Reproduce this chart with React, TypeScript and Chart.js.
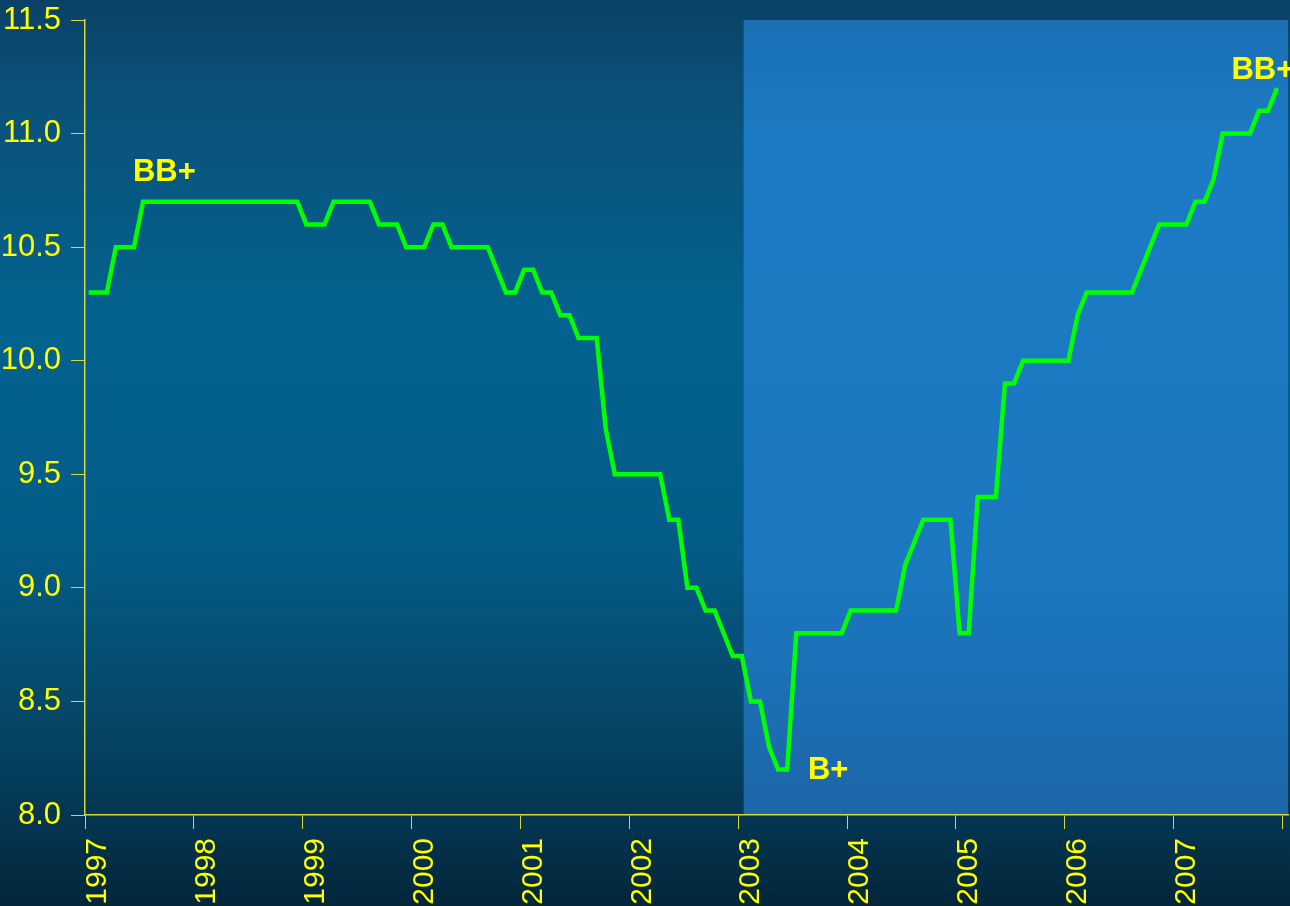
import React, { useEffect, useRef } from "react";
import { Chart, registerables } from "chart.js";

Chart.register(...registerables);

// ---- Data ----
const START_YEAR = 1997;
const MONTH_OFFSET = 0.4; // first observation sits a little after the year tick
const YEAR_TICKS = [1997, 1998, 1999, 2000, 2001, 2002, 2003, 2004, 2005, 2006, 2007, 2008];
const YEAR_LABELS = ["1997", "1998", "1999", "2000", "2001", "2002", "2003", "2004", "2005", "2006", "2007", ""];
const Y_TICKS = [8.0, 8.5, 9.0, 9.5, 10.0, 10.5, 11.0, 11.5];

// monthly values, Jan 1997 .. Dec 2007
const RATING_VALUES = [
  10.3, 10.3, 10.3, 10.5, 10.5, 10.5, 10.7, 10.7, 10.7, 10.7, 10.7, 10.7,
  10.7, 10.7, 10.7, 10.7, 10.7, 10.7, 10.7, 10.7, 10.7, 10.7, 10.7, 10.7,
  10.6, 10.6, 10.6, 10.7, 10.7, 10.7, 10.7, 10.7, 10.6, 10.6, 10.6, 10.5,
  10.5, 10.5, 10.6, 10.6, 10.5, 10.5, 10.5, 10.5, 10.5, 10.4, 10.3, 10.3,
  10.4, 10.4, 10.3, 10.3, 10.2, 10.2, 10.1, 10.1, 10.1, 9.7, 9.5, 9.5,
  9.5, 9.5, 9.5, 9.5, 9.3, 9.3, 9.0, 9.0, 8.9, 8.9, 8.8, 8.7,
  8.7, 8.5, 8.5, 8.3, 8.2, 8.2, 8.8, 8.8, 8.8, 8.8, 8.8, 8.8,
  8.9, 8.9, 8.9, 8.9, 8.9, 8.9, 9.1, 9.2, 9.3, 9.3, 9.3, 9.3,
  8.8, 8.8, 9.4, 9.4, 9.4, 9.9, 9.9, 10.0, 10.0, 10.0, 10.0, 10.0,
  10.0, 10.2, 10.3, 10.3, 10.3, 10.3, 10.3, 10.3, 10.4, 10.5, 10.6, 10.6,
  10.6, 10.6, 10.7, 10.7, 10.8, 11.0, 11.0, 11.0, 11.0, 11.1, 11.1, 11.2,
];

const HIGHLIGHT_START = 2003.05;
const ANNOTATION_TEXT = ["BB+", "B+", "BB+"];
const ANNOTATION_X = [1997.44, 2003.64, 2007.53];
const ANNOTATION_Y = [10.79, 8.16, 11.24];

const YELLOW = "#ffff00";
const AXIS_COLOR = "#d4d838";
const FONT = "'Liberation Sans', Arial, Helvetica, sans-serif";

export default function App() {
  const canvasRef = useRef<HTMLCanvasElement | null>(null);

  useEffect(() => {
    const canvas = canvasRef.current;
    if (!canvas) return;

    const points = RATING_VALUES.map((v, i) => ({
      x: START_YEAR + (i + MONTH_OFFSET) / 12,
      y: v,
    }));

    const backgroundPlugin = {
      id: "bgAndHighlight",
      beforeDraw(chart: any) {
        const { ctx, width, height, chartArea, scales } = chart;
        ctx.save();
        const g = ctx.createLinearGradient(0, 0, 0, height);
        g.addColorStop(0, "#0b4164");
        g.addColorStop(0.1, "#0a5078");
        g.addColorStop(0.35, "#03628f");
        g.addColorStop(0.6, "#035c88");
        g.addColorStop(0.78, "#064868");
        g.addColorStop(0.9, "#043652");
        g.addColorStop(1, "#03263a");
        ctx.fillStyle = g;
        ctx.fillRect(0, 0, width, height);

        const x0 = scales.x.getPixelForValue(HIGHLIGHT_START);
        const hg = ctx.createLinearGradient(0, chartArea.top, 0, chartArea.bottom);
        hg.addColorStop(0, "#1b70b5");
        hg.addColorStop(0.15, "#1b7bc4");
        hg.addColorStop(0.7, "#1b78c0");
        hg.addColorStop(1, "#1c66a8");
        ctx.fillStyle = hg;
        ctx.fillRect(x0, chartArea.top, chartArea.right - x0, chartArea.bottom - chartArea.top);
        ctx.restore();
      },
    };

    const annotationPlugin = {
      id: "ratingLabels",
      afterDatasetsDraw(chart: any) {
        const { ctx, scales } = chart;
        ctx.save();
        ctx.fillStyle = YELLOW;
        ctx.font = `bold 31px ${FONT}`;
        ctx.textAlign = "left";
        ctx.textBaseline = "alphabetic";
        ANNOTATION_TEXT.forEach((t, i) => {
          ctx.fillText(t, scales.x.getPixelForValue(ANNOTATION_X[i]), scales.y.getPixelForValue(ANNOTATION_Y[i]));
        });
        ctx.restore();
      },
    };

    const chart = new Chart(canvas, {
      type: "line",
      data: {
        datasets: [
          {
            data: points,
            borderColor: "#00ff00",
            borderWidth: 4.5,
            pointRadius: 0,
            tension: 0,
            fill: false,
          },
        ],
      },
      options: {
        responsive: false,
        animation: false,
        layout: { padding: { top: 20, right: 2, left: 0, bottom: 0 } },
        plugins: { legend: { display: false }, tooltip: { enabled: false } },
        scales: {
          x: {
            type: "linear",
            min: 1997,
            max: 2008.05,
            afterBuildTicks: (scale: any) => {
              scale.ticks = YEAR_TICKS.map((v) => ({ value: v }));
            },
            afterFit: (scale: any) => {
              scale.height = 91;
              scale.paddingLeft = 0;
              scale.paddingRight = 0;
              scale.paddingTop = 0;
              scale.paddingBottom = 0;
            },
            ticks: {
              autoSkip: false,
              maxRotation: 90,
              minRotation: 90,
              labelOffset: 13,
              padding: 9,
              color: YELLOW,
              font: { size: 30, family: FONT },
              callback: (value: any) => {
                const idx = YEAR_TICKS.indexOf(Math.round(Number(value)));
                return idx >= 0 ? YEAR_LABELS[idx] : "";
              },
            },
            grid: {
              display: true,
              drawOnChartArea: false,
              drawTicks: true,
              tickLength: 14,
              color: AXIS_COLOR,
              lineWidth: 1,
            },
            border: { display: true, color: AXIS_COLOR, width: 1.5 },
          },
          y: {
            type: "linear",
            min: 8,
            max: 11.5,
            afterBuildTicks: (scale: any) => {
              scale.ticks = Y_TICKS.map((v) => ({ value: v }));
            },
            afterFit: (scale: any) => {
              scale.width = 85;
              scale.paddingLeft = 0;
              scale.paddingRight = 0;
              scale.paddingTop = 0;
              scale.paddingBottom = 0;
            },
            ticks: {
              padding: 10,
              color: YELLOW,
              font: { size: 31, family: FONT },
              callback: (value: any) => Number(value).toFixed(1),
            },
            grid: {
              display: true,
              drawOnChartArea: false,
              drawTicks: true,
              tickLength: 14,
              color: AXIS_COLOR,
              lineWidth: 1,
            },
            border: { display: true, color: AXIS_COLOR, width: 1.5 },
          },
        },
      },
      plugins: [backgroundPlugin, annotationPlugin],
    });

    return () => {
      chart.destroy();
    };
  }, []);

  return (
    <div style={{ position: "absolute", left: 0, top: 0, width: 1290, height: 906, overflow: "hidden" }}>
      <canvas ref={canvasRef} width={1290} height={906} style={{ display: "block" }} />
    </div>
  );
}
